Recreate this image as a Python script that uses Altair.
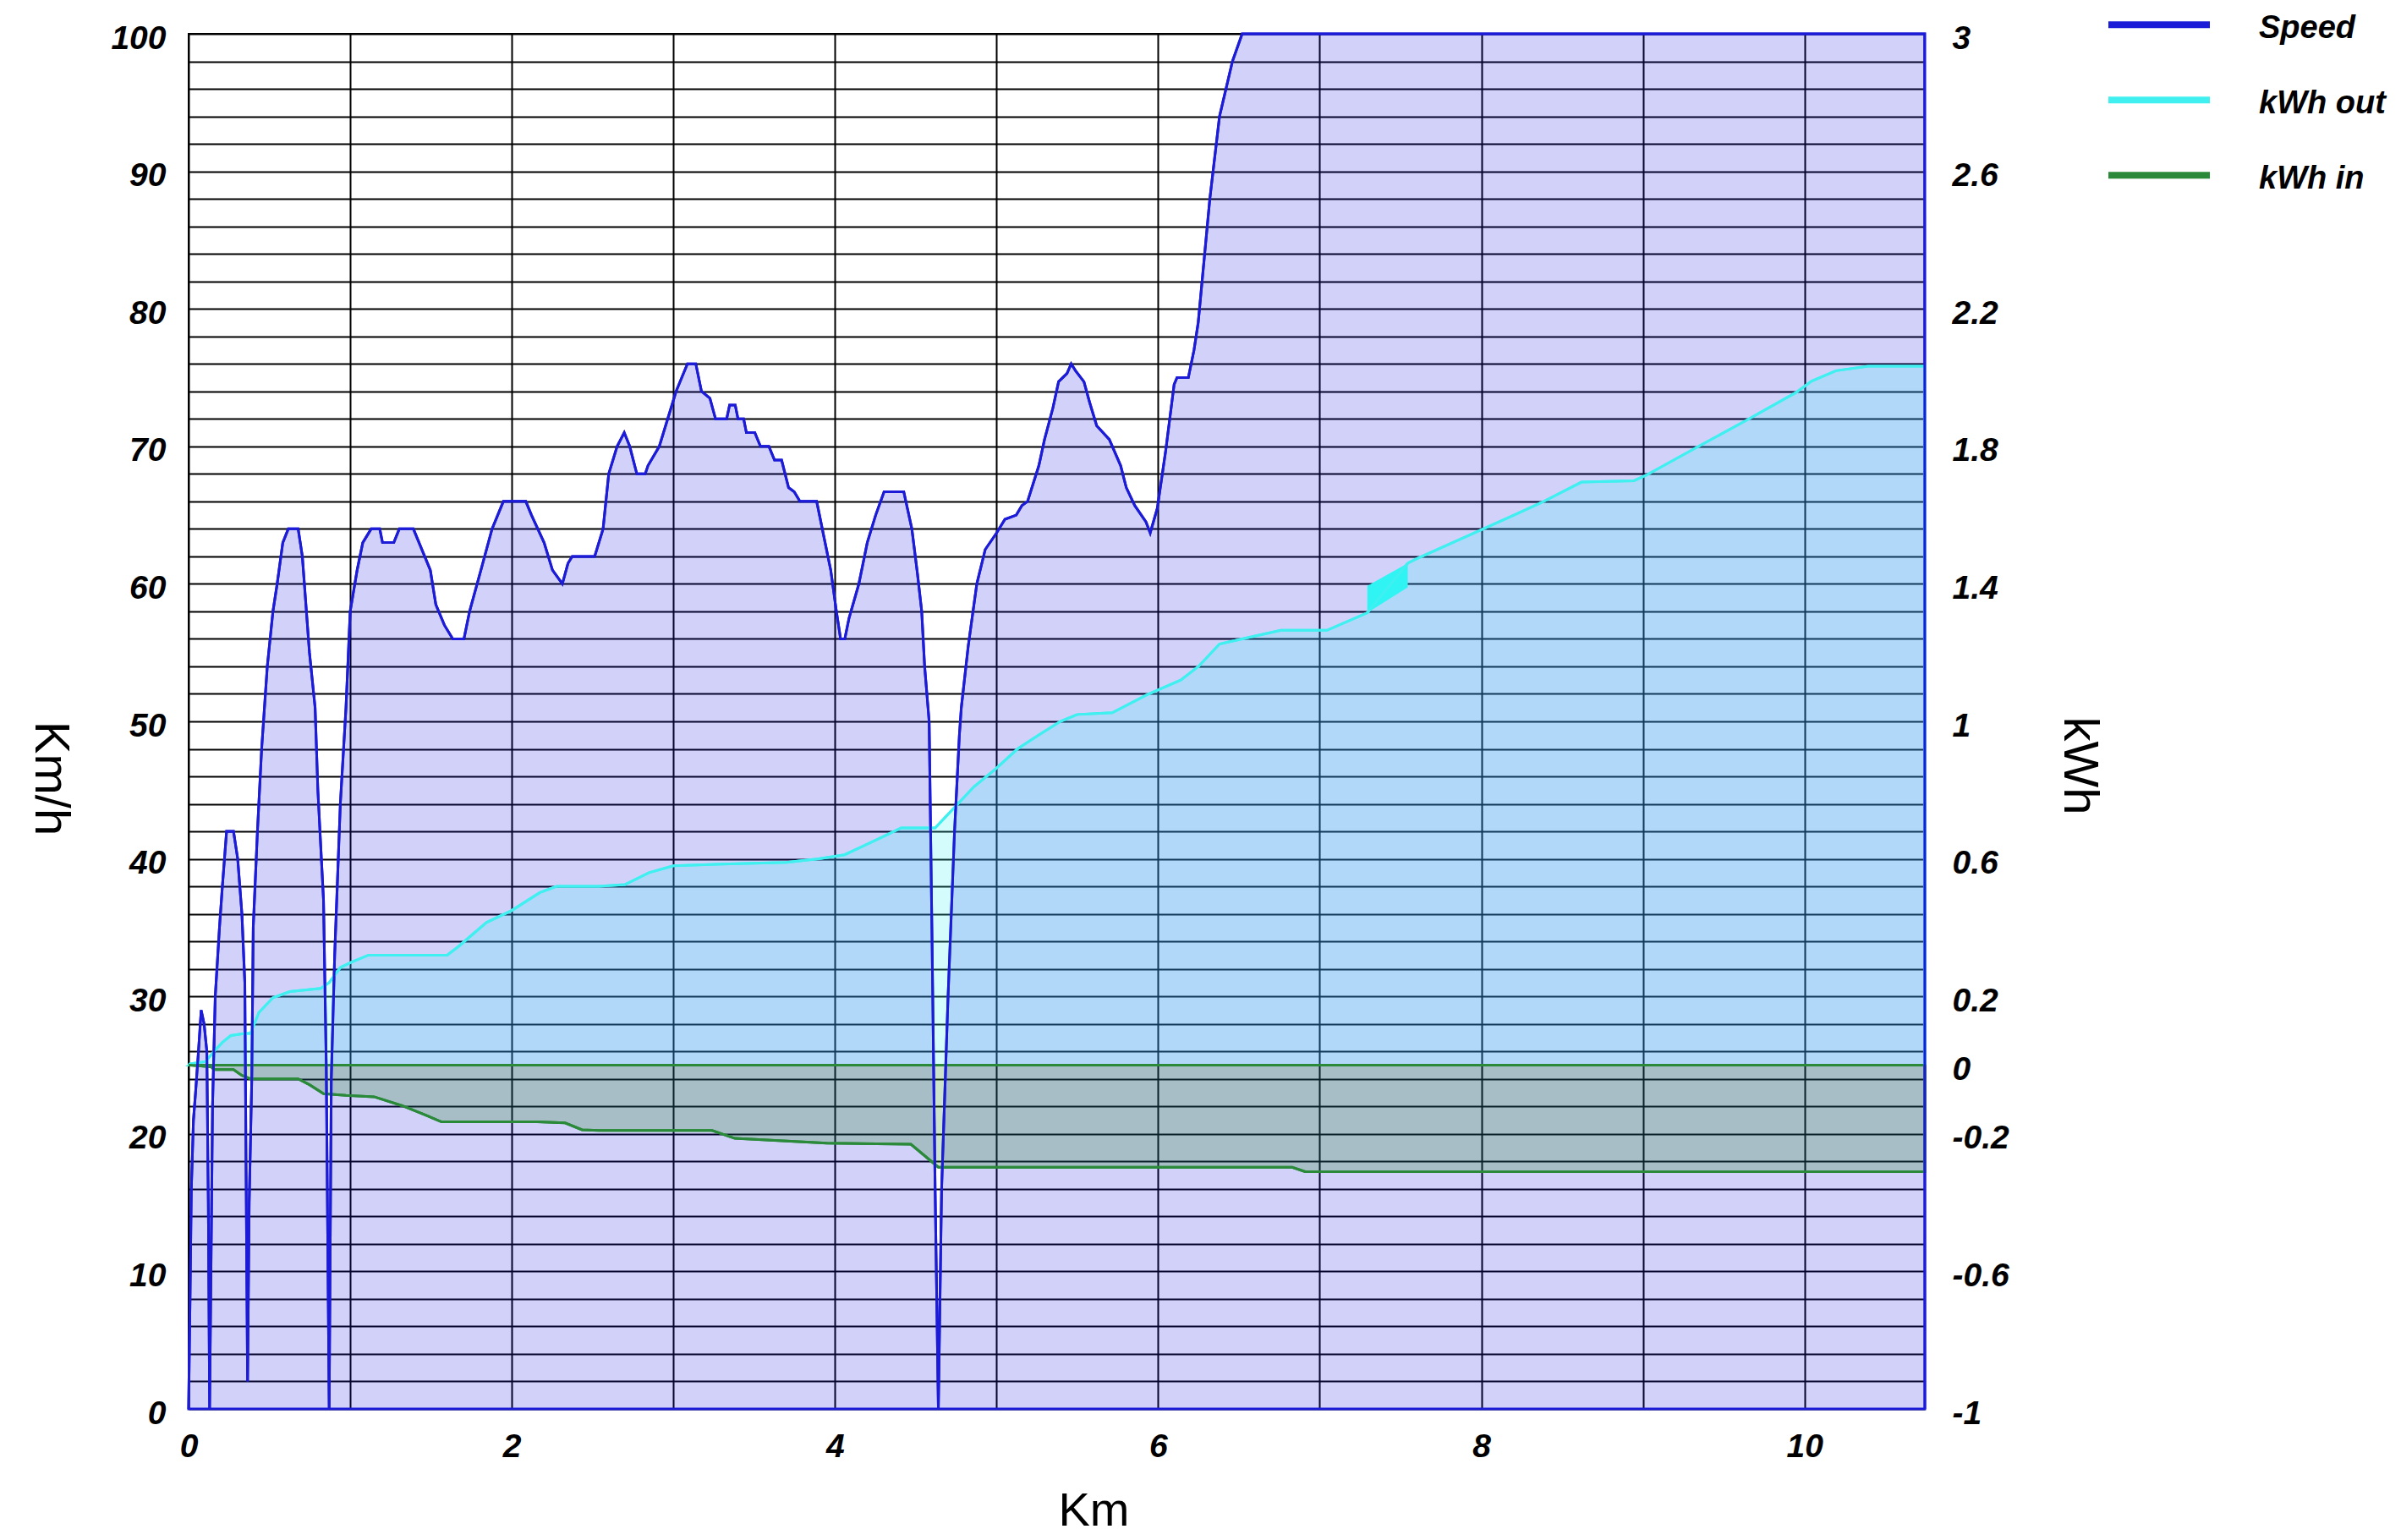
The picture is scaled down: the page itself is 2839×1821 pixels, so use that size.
import altair as alt
import pandas as pd

# ---------------- data ----------------
speed_km = [0.000, 0.009, 0.017, 0.030, 0.043, 0.061, 0.078, 0.096, 0.113, 0.122, 0.130,
            0.140, 0.148, 0.165, 0.191, 0.209, 0.235, 0.278, 0.304, 0.330, 0.348, 0.360, 0.365,
            0.375, 0.391, 0.400, 0.426, 0.452, 0.487, 0.522, 0.548, 0.583, 0.617, 0.678, 0.704,
            0.748, 0.783, 0.800, 0.835, 0.852, 0.870, 0.883, 0.904, 0.939, 0.974, 1.000, 1.043,
            1.078, 1.130, 1.183, 1.200, 1.270, 1.304, 1.391, 1.461, 1.496, 1.530, 1.583, 1.635,
            1.704, 1.739, 1.809, 1.878, 1.948, 2.087, 2.122, 2.200, 2.252, 2.313, 2.348, 2.374,
            2.513, 2.565, 2.600, 2.652, 2.696, 2.730, 2.774, 2.826, 2.843, 2.913, 2.965, 3.017,
            3.052, 3.087, 3.139, 3.174, 3.226, 3.261, 3.330, 3.348, 3.383, 3.400, 3.435, 3.452,
            3.504, 3.539, 3.591, 3.626, 3.670, 3.713, 3.748, 3.783, 3.887, 3.939, 3.974, 4.009,
            4.035, 4.061, 4.087, 4.148, 4.200, 4.252, 4.304, 4.426, 4.476, 4.511, 4.537, 4.555,
            4.583, 4.600, 4.620, 4.640, 4.660, 4.700, 4.740, 4.770, 4.782, 4.825, 4.878, 4.930,
            5.000, 5.052, 5.122, 5.157, 5.192, 5.262, 5.297, 5.349, 5.384, 5.436, 5.462, 5.489,
            5.541, 5.576, 5.620, 5.698, 5.768, 5.803, 5.855, 5.925, 5.951, 5.995, 6.047, 6.099,
            6.117, 6.187, 6.222, 6.248, 6.320, 6.380, 6.460, 6.520, 10.744, 10.745]
speed_kmh = [0, 8, 16, 21, 23, 26, 29, 28, 26, 15, 0,
             12, 22, 30, 35, 38, 42, 42, 40, 36, 31, 10, 2,
             15, 24, 35, 42, 48, 54, 58, 60, 63, 64, 64, 62,
             55, 51, 45, 37, 25, 0, 24, 33, 44, 51, 58, 61,
             63, 64, 64, 63, 63, 64, 64, 62, 61, 58.5, 57, 56,
             56, 58, 61, 64, 66, 66, 65, 63, 61, 60, 61.5, 62,
             62, 64, 68, 70, 71, 70, 68, 68, 68.6, 70, 72, 74,
             75, 76, 76, 74, 73.5, 72, 72, 73, 73, 72, 72, 71,
             71, 70, 70, 69, 69, 67, 66.7, 66, 66, 63, 61, 58,
             56, 56, 57.5, 60, 63, 65, 66.7, 66.7, 64, 60.7, 58, 54,
             50, 35, 16, 0, 16, 30, 42, 49, 51, 55.5, 60, 62.5,
             63.7, 64.7, 65, 65.7, 66, 68.6, 70.5, 72.8, 74.7, 75.3, 76, 75.5,
             74.7, 73.2, 71.5, 70.5, 68.6, 67, 65.7, 64.5, 63.7, 65.5, 69.7, 74.5,
             75, 75, 77, 79, 88, 94, 98, 100, 100, 0]

out_km = [0.000, 0.009, 0.104, 0.157, 0.209, 0.261, 0.348, 0.383, 0.435, 0.522, 0.626,
          0.817, 0.870, 0.939, 1.009, 1.113, 1.600, 1.670, 1.843, 2.000, 2.174, 2.278,
          2.539, 2.700, 2.850, 3.000, 3.300, 3.700, 3.900, 4.060, 4.330, 4.410, 4.620,
          4.730, 4.860, 4.995, 5.130, 5.260, 5.395, 5.500, 5.716, 5.930, 6.140, 6.250,
          6.380, 6.520, 6.760, 7.045, 7.295, 7.545, 7.595, 7.995, 8.370, 8.620, 8.945,
          9.020, 9.345, 9.645, 9.945, 10.045, 10.195, 10.395, 10.744, 10.745]
out_kwh = [0.0, 0.004, 0.01, 0.04, 0.066, 0.086, 0.092, 0.092, 0.153, 0.196, 0.214,
           0.223, 0.24, 0.284, 0.30, 0.32, 0.32, 0.345, 0.415, 0.45, 0.502, 0.52,
           0.52, 0.525, 0.56, 0.58, 0.585, 0.59, 0.60, 0.612, 0.672, 0.69, 0.69,
           0.745, 0.81, 0.862, 0.92, 0.96, 1.0, 1.02, 1.025, 1.077, 1.12, 1.16,
           1.225, 1.24, 1.265, 1.265, 1.316, 1.46, 1.472, 1.556, 1.636, 1.696, 1.70,
           1.716, 1.80, 1.877, 1.956, 1.99, 2.02, 2.033, 2.033, 0.0]

in_km = [0.000, 0.009, 0.139, 0.157, 0.278, 0.330, 0.383, 0.678, 0.748, 0.835, 0.974,
         1.148, 1.322, 1.461, 1.565, 2.157, 2.330, 2.435, 2.539, 3.240, 3.380, 3.950,
         4.470, 4.640, 6.830, 6.910, 10.744, 10.745]
in_kwh = [0.0, 0.0, -0.005, -0.013, -0.013, -0.03, -0.04, -0.04, -0.057, -0.083, -0.088,
          -0.092, -0.118, -0.144, -0.165, -0.165, -0.168, -0.188, -0.19, -0.19, -0.213, -0.227,
          -0.23, -0.297, -0.297, -0.31, -0.31, 0.0]

glitch_km = [7.295, 7.545]
glitch_lo = [1.316, 1.39]
glitch_hi = [1.394, 1.46]

series_names = ["Speed", "kWh out", "kWh in"]
series_colors = ["#1c1cd8", "#40f0f0", "#2a8a3a"]

x_ticks = list(range(0, 11))
left_ticks = list(range(0, 101, 2))
right_ticks = [3, 2.6, 2.2, 1.8, 1.4, 1, 0.6, 0.2, 0, -0.2, -0.6, -1]

FONT = "Liberation Sans"

speed_df = pd.DataFrame({"km": speed_km, "kmh": speed_kmh, "series": "Speed"})
out_df = pd.DataFrame({"km": out_km, "kwh": out_kwh, "series": "kWh out"})
in_df = pd.DataFrame({"km": in_km, "kwh": in_kwh, "series": "kWh in"})
glitch_df = pd.DataFrame({"km": glitch_km, "lo": glitch_lo, "hi": glitch_hi})

# ---------------- encodings ----------------
x_scale = alt.Scale(domain=[0, 10.745], nice=False, zero=False)
x_axis = alt.Axis(values=x_ticks, labelExpr="datum.value % 2 == 0 ? datum.label : ''",
                  grid=True, ticks=False, domain=False, gridColor="#000000", gridWidth=2,
                  gridOpacity=1, labelFont=FONT, labelFontSize=39, labelFontWeight="bold",
                  labelFontStyle="italic", labelColor="#000000", labelPadding=25,
                  labelFlush=False,
                  titleFont=FONT, titleFontSize=56, titleFontWeight="normal",
                  titleColor="#000000", titleX=1070, titleY=120, titleAlign="center",
                  titleBaseline="middle")


def X():
    return alt.X("km:Q", scale=x_scale, axis=x_axis, title="Km")


speed_scale = alt.Scale(domain=[0, 100], nice=False, zero=False)
kwh_scale = alt.Scale(domain=[-1, 3], nice=False, zero=False)

left_axis = alt.Axis(orient="left", values=left_ticks,
                     labelExpr="datum.value % 10 == 0 ? datum.label : ''",
                     grid=True, ticks=False, domain=False, gridColor="#000000", gridWidth=2,
                     gridOpacity=1, labelFont=FONT, labelFontSize=39, labelFontWeight="bold",
                     labelFontStyle="italic", labelColor="#000000", labelPadding=27,
                     labelOffset=5,
                     titleFont=FONT, titleFontSize=58, titleFontWeight="normal",
                     titleColor="#000000", titleAngle=90, titleX=-165, titleY=880,
                     titleAlign="center", titleBaseline="middle")

right_axis = alt.Axis(orient="right", values=right_ticks, labelExpr="toString(datum.value)",
                      grid=False, ticks=False, domain=False, labelFont=FONT, labelFontSize=39,
                      labelFontWeight="bold", labelFontStyle="italic", labelColor="#000000",
                      labelPadding=32, labelAlign="left", labelOffset=5,
                      titleFont=FONT, titleFontSize=58,
                      titleFontWeight="normal", titleColor="#000000", titleAngle=90,
                      titleX=181, titleY=865, titleAlign="center", titleBaseline="middle")

color_enc = alt.Color(
    "series:N",
    scale=alt.Scale(domain=series_names, range=series_colors),
    legend=alt.Legend(orient="none", legendX=2286, legendY=-50, title=None,
                      symbolType="M-1.5,-0.12H1.5", symbolSize=6400, symbolStrokeWidth=8,
                      labelFont=FONT, labelFontSize=38, labelFontWeight="bold",
                      labelFontStyle="italic", labelColor="#000000", labelOffset=74,
                      rowPadding=26, padding=0, labelBaseline="middle"),
)

# speed fill (with outline along the baseline)
speed_area = alt.Chart(speed_df).mark_area(
    fill="#1a1ae6", fillOpacity=0.2, stroke="#1c1cd8", strokeWidth=3
).encode(x=X(), y=alt.Y("kmh:Q", scale=speed_scale, axis=left_axis, title="Km/h"))

# kWh layers
out_area = alt.Chart(out_df).mark_area(
    fill="#40f0f0", fillOpacity=0.22, stroke="#40f0f0", strokeWidth=3
).encode(x=X(), y=alt.Y("kwh:Q", scale=kwh_scale, axis=right_axis, title="kWh"),
         y2=alt.datum(0))
in_area = alt.Chart(in_df).mark_area(
    fill="#208020", fillOpacity=0.23, stroke="#2a8a3a", strokeWidth=3
).encode(x=X(), y=alt.Y("kwh:Q", scale=kwh_scale, axis=right_axis, title="kWh"),
         y2=alt.datum(0))
glitch = alt.Chart(glitch_df).mark_area(fill="#30f4f4", opacity=1).encode(
    x=X(), y=alt.Y("lo:Q", scale=kwh_scale, axis=right_axis, title="kWh"), y2="hi:Q")
out_line = alt.Chart(out_df).mark_line(strokeWidth=3).encode(
    x=X(), y=alt.Y("kwh:Q", scale=kwh_scale, axis=right_axis, title="kWh"), color=color_enc)
in_line = alt.Chart(in_df).mark_line(strokeWidth=3).encode(
    x=X(), y=alt.Y("kwh:Q", scale=kwh_scale, axis=right_axis, title="kWh"), color=color_enc)

kwh_layer = alt.layer(out_area, in_area, glitch, out_line, in_line)

speed_line = alt.Chart(speed_df).mark_line(strokeWidth=3).encode(
    x=X(), y=alt.Y("kmh:Q", scale=speed_scale, axis=None), color=color_enc)

chart = alt.layer(speed_area, kwh_layer, speed_line).resolve_scale(
    y="independent"
).properties(
    width=2053, height=1626,
    autosize=alt.AutoSizeParams(type="none"),
    padding={"left": 215, "top": 32, "right": 555, "bottom": 153},
).configure_view(stroke="#000000", strokeWidth=2)

chart.save("out.html", embed_options={"renderer": "svg", "actions": False})
